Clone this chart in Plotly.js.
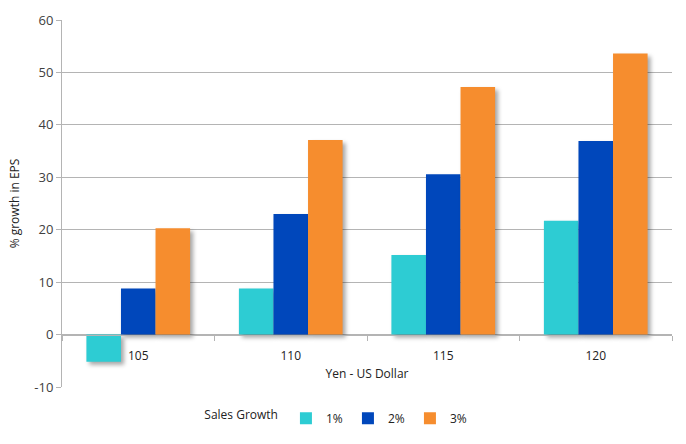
<!DOCTYPE html>
<html>
<head>
<meta charset="utf-8">
<script src="https://cdn.plot.ly/plotly-3.0.1.min.js"></script>
<style>
  html, body { margin: 0; padding: 0; background: #fff; }
  #chart { width: 686px; height: 444px; }
  /* soft shadow under the bars, like the spreadsheet original */
  .barlayer .point path { filter: drop-shadow(3px 3px 2px rgba(0,0,0,0.35)); }
</style>
</head>
<body>
<div id="chart"></div>
<script>
// Yen - US Dollar exchange rate levels
const rates = ['105', '110', '115', '120'];

// % growth in EPS for each sales-growth scenario
const growth1 = [-5.2, 8.8, 15.2, 21.7];
const growth2 = [8.8, 23.0, 30.6, 36.9];
const growth3 = [20.3, 37.1, 47.2, 53.6];

const seriesNames = ['1%', '2%', '3%'];
const seriesColors = ['#2dccd3', '#0047bb', '#f68d2e'];

const yTicks = [-10, 0, 10, 20, 30, 40, 50, 60];

const GRID = '#b4b4b4';
const FONT = '"Open Sans", sans-serif';

const traces = [growth1, growth2, growth3].map((vals, i) => ({
  type: 'bar',
  x: rates,
  y: vals,
  name: seriesNames[i],
  marker: { color: seriesColors[i], line: { width: 0 } },
  hoverinfo: 'skip',
}));

const layout = {
  width: 686,
  height: 444,
  margin: { t: 20, r: 14, b: 56, l: 62 },
  paper_bgcolor: '#ffffff',
  plot_bgcolor: '#ffffff',
  font: { family: FONT, size: 12, color: '#404040' },
  barmode: 'group',
  bargap: 0.32,
  bargroupgap: 0,
  showlegend: true,
  legend: {
    orientation: 'h',
    x: 0.23, xanchor: 'left',
    y: -0.082, yanchor: 'middle',
    title: { text: 'Sales Growth', side: 'left', font: { size: 12, color: '#222' } },
    font: { size: 12, color: '#222' },
    entrywidth: 17,
    entrywidthmode: 'pixels',
    tracegroupgap: 0,
  },
  xaxis: {
    type: 'category',
    anchor: 'free',
    position: 10 / 70,
    showline: true,
    linecolor: GRID,
    linewidth: 1,
    ticks: 'outside',
    tickson: 'boundaries',
    ticklen: 5,
    tickcolor: GRID,
    ticklabelstandoff: 10,
    showgrid: false,
    tickfont: { size: 12, color: '#222' },
    title: { text: 'Yen - US Dollar', font: { size: 12, color: '#222' }, standoff: 6 },
  },
  yaxis: {
    range: [-10, 60],
    tickvals: yTicks,
    ticktext: yTicks.map(String),
    showline: true,
    linecolor: GRID,
    linewidth: 1,
    ticks: 'outside',
    ticklen: 5,
    tickcolor: GRID,
    showgrid: true,
    gridcolor: GRID,
    gridwidth: 1,
    zeroline: true,
    zerolinecolor: GRID,
    zerolinewidth: 1,
    tickfont: { size: 13, color: '#404040' },
    title: { text: '% growth in EPS', font: { size: 12, color: '#222' }, standoff: 12 },
  },
};

Plotly.newPlot('chart', traces, layout, { displayModeBar: false, staticPlot: true });
</script>
</body>
</html>
